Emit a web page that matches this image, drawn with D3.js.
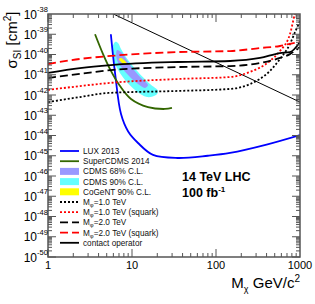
<!DOCTYPE html>
<html>
<head>
<meta charset="utf-8">
<script src="https://cdn.jsdelivr.net/npm/d3@7"></script>
<style>
  body { margin: 0; background: #fff; }
  text { font-family: "Liberation Sans", Arial, sans-serif; }
</style>
</head>
<body>
<div id="chart"></div>
<script>
// mass values (GeV) and log10 of cross section (cm^2)
const luxM = [5.6, 6.3, 7.4, 9.0, 11.8, 17.8, 35, 80, 147, 400, 1000]
const luxE = [-39.0, -40.96, -42.94, -43.8, -44.37, -44.96, -45.11, -45.0, -44.86, -44.45, -43.98]

const scdmsM = [3.63, 4.52, 5.47, 7.2, 9.73, 15.5, 24.7, 29.9]
const scdmsE = [-39.0, -39.98, -40.72, -41.56, -42.2, -42.6, -42.69, -42.64]

const cdms90M = [6.28, 5.78, 5.94, 6.63, 8.26, 11.2, 15.1, 19.3, 20.4, 16.4, 11.8, 8.96, 7.4, 6.81]
const cdms90E = [-39.38, -39.78, -40.17, -40.67, -41.26, -41.8, -42.1, -42.0, -41.8, -41.46, -40.86, -40.27, -39.73, -39.43]

const cdms68M = [6.63, 6.63, 7.6, 9.46, 11.8, 14.3, 15.5, 13.2, 10.3, 8.48, 7.4]
const cdms68E = [-39.78, -40.27, -40.67, -41.11, -41.46, -41.65, -41.51, -41.21, -40.72, -40.22, -39.88]

const cogentM = [7.0, 7.4, 8.26, 8.73, 8.0, 7.2]
const cogentE = [-40.22, -40.17, -40.32, -40.47, -40.47, -40.32]

const curveM = [1, 2.4, 5.6, 35.3, 147, 334, 578, 760, 1000]
const m2sqE = [-40.47, -40.22, -40.07, -39.88, -39.83, -39.68, -39.58, -39.47, -39.38]
const contactE = [-40.91, -40.67, -40.52, -40.37, -40.32, -40.17, -39.93, -39.88, -39.38]
const m2E = [-41.16, -40.96, -40.77, -40.62, -40.57, -40.42, -40.17, -39.98, -39.63]

const dotM = [1, 2.4, 5.2, 35.3, 147, 254, 439, 578, 760, 872, 1000]
const m1sqE = [-41.75, -41.56, -41.41, -41.21, -41.11, -40.86, -40.32, -39.83, -38.99, -38.0, -37.5]
const m1E = [-42.35, -42.1, -41.9, -41.8, -41.7, -41.46, -40.81, -40.22, -39.48, -38.9, -38.35]

const diagM = [6, 1000]
const diagE = [-38, -42.35]

const xTickLabels = ["1", "10", "100", "1000"]
const yTickExps = [-38, -39, -40, -41, -42, -43, -44, -45, -46, -47, -48, -49, -50]

const legendLabels = ["LUX 2013", "SuperCDMS 2014", "CDMS 68% C.L.", "CDMS 90% C.L.", "CoGeNT 90% C.L.",
  "=1.0 TeV", "=1.0 TeV (squark)", "=2.0 TeV", "=2.0 TeV (squark)", "contact operator"]

const width = 315
const height = 304
const pLeft = 48, pRight = 300, pTop = 14, pBottom = 257

const svg = d3.select("#chart").append("svg")
    .attr("width", width)
    .attr("height", height)

const x = d3.scaleLog().domain([1, 1000]).range([pLeft, pRight])
const y = d3.scaleLog().domain([1e-50, 1e-38]).range([pBottom, pTop])

const toPts = (ms, es) => ms.map((m, i) => [m, Math.pow(10, es[i])])

svg.append("clipPath").attr("id", "clip")
    .append("rect").attr("x", pLeft).attr("y", pTop).attr("width", pRight - pLeft).attr("height", pBottom - pTop)

const plot = svg.append("g").attr("clip-path", "url(#clip)")

const line = d3.line().x(d => x(d[0])).y(d => y(d[1])).curve(d3.curveMonotoneX)
const lineC = d3.line().x(d => x(d[0])).y(d => y(d[1])).curve(d3.curveCatmullRom)
const area = d3.line().x(d => x(d[0])).y(d => y(d[1])).curve(d3.curveCatmullRomClosed)

// regions
plot.append("path").attr("d", area(toPts(cdms90M, cdms90E))).attr("fill", "#66ffff")
plot.append("path").attr("d", area(toPts(cdms68M, cdms68E))).attr("fill", "#9999ff")
plot.append("path").attr("d", area(toPts(cogentM, cogentE))).attr("fill", "#ffff00")

// limits
plot.append("path").attr("d", lineC(toPts(luxM, luxE))).attr("fill", "none").attr("stroke", "#0000ff").attr("stroke-width", 1.8)
plot.append("path").attr("d", lineC(toPts(scdmsM, scdmsE))).attr("fill", "none").attr("stroke", "#336600").attr("stroke-width", 1.8)

plot.append("path").attr("d", line(toPts(diagM, diagE))).attr("fill", "none").attr("stroke", "#000").attr("stroke-width", 1)

const styles = [
  {m: dotM, e: m1E, c: "#000", dash: "2,2"},
  {m: dotM, e: m1sqE, c: "#ff0000", dash: "2,2"},
  {m: curveM, e: m2E, c: "#000", dash: "8,4"},
  {m: curveM, e: m2sqE, c: "#ff0000", dash: "8,4"},
  {m: curveM, e: contactE, c: "#000", dash: null}
]
styles.forEach(s => {
  plot.append("path").attr("d", line(toPts(s.m, s.e)))
    .attr("fill", "none").attr("stroke", s.c).attr("stroke-width", 1.8)
    .attr("stroke-dasharray", s.dash)
})

// frame and ticks
const axisColor = "#555"
svg.append("rect").attr("x", pLeft).attr("y", pTop).attr("width", pRight - pLeft).attr("height", pBottom - pTop)
    .attr("fill", "none").attr("stroke", axisColor).attr("stroke-width", 1.5)

const ticks = svg.append("g").attr("stroke", axisColor).attr("stroke-width", 1)
for (let e = -50; e < -38; e++) {
  for (let k = 1; k < 10; k++) {
    const yy = y(k * Math.pow(10, e))
    const len = k === 1 ? 8 : 4
    ticks.append("line").attr("x1", pLeft).attr("x2", pLeft + len).attr("y1", yy).attr("y2", yy)
    ticks.append("line").attr("x1", pRight).attr("x2", pRight - len).attr("y1", yy).attr("y2", yy)
  }
}
for (let p = 0; p < 3; p++) {
  for (let k = 1; k < 10; k++) {
    const xx = x(k * Math.pow(10, p))
    const len = k === 1 ? 8 : 4
    ticks.append("line").attr("x1", xx).attr("x2", xx).attr("y1", pBottom).attr("y2", pBottom - len)
    ticks.append("line").attr("x1", xx).attr("x2", xx).attr("y1", pTop).attr("y2", pTop + len)
  }
}

// y tick labels
yTickExps.forEach(e => {
  svg.append("text").attr("x", 37).attr("y", y(Math.pow(10, e)) + 4.5)
      .attr("text-anchor", "end").attr("font-size", 12).text("10")
  svg.append("text").attr("x", 37).attr("y", y(Math.pow(10, e)) - 2)
      .attr("font-size", 7.5).text(e)
})

// x tick labels
xTickLabels.forEach((lab, i) => {
  svg.append("text").attr("x", x(Math.pow(10, i))).attr("y", 269)
      .attr("text-anchor", "middle").attr("font-size", 11).text(lab)
})

// axis titles
const yt = svg.append("text").attr("transform", "translate(17,40) rotate(-90)")
    .attr("text-anchor", "middle").attr("font-size", 15)
yt.append("tspan").text("σ")
yt.append("tspan").attr("font-size", 10).attr("dy", 4).text("SI")
yt.append("tspan").attr("dy", -4).text(" [cm")
yt.append("tspan").attr("font-size", 10).attr("dy", -6).text("2")
yt.append("tspan").attr("dy", 6).text("]")

const xt = svg.append("text").attr("x", pRight).attr("y", 288)
    .attr("text-anchor", "end").attr("font-size", 15)
xt.append("tspan").text("M")
xt.append("tspan").attr("font-size", 9).attr("dy", 4).text("χ")
xt.append("tspan").attr("dy", -4).text(" GeV/c")
xt.append("tspan").attr("font-size", 10).attr("dy", -6).text("2")

// legend
const lg = svg.append("g")
legendLabels.forEach((lab, i) => {
  const yy = 151 + i * 10.2
  if (i === 0) lg.append("line").attr("x1", 60).attr("x2", 79).attr("y1", yy).attr("y2", yy).attr("stroke", "#0000ff").attr("stroke-width", 1.8)
  if (i === 1) lg.append("line").attr("x1", 60).attr("x2", 79).attr("y1", yy).attr("y2", yy).attr("stroke", "#336600").attr("stroke-width", 1.8)
  if (i >= 2 && i <= 4) lg.append("rect").attr("x", 60).attr("y", yy - 3.5).attr("width", 19).attr("height", 7)
      .attr("fill", ["#9999ff", "#66ffff", "#ffff00"][i - 2])
  if (i >= 5) {
    const s = styles[i - 5]
    lg.append("line").attr("x1", 60).attr("x2", 79).attr("y1", yy).attr("y2", yy)
      .attr("stroke", s.c).attr("stroke-width", 1.8).attr("stroke-dasharray", s.dash)
  }
  const t = lg.append("text").attr("x", 83).attr("y", yy + 3).attr("font-size", 8.2).attr("fill", "#111")
  if (i >= 5 && i < 9) {
    t.append("tspan").text("M")
    t.append("tspan").attr("font-size", 6).attr("dy", 2).text("φ")
    t.append("tspan").attr("dy", -2).text(lab)
  } else {
    t.text(lab)
  }
})

// annotation
svg.append("text").attr("x", 182).attr("y", 181).attr("font-size", 12.5).attr("font-weight", "bold").text("14 TeV LHC")
const an = svg.append("text").attr("x", 182).attr("y", 197).attr("font-size", 12.5).attr("font-weight", "bold")
an.append("tspan").text("100 fb")
an.append("tspan").attr("font-size", 8).attr("dy", -5).text("-1")
</script>
</body>
</html>
